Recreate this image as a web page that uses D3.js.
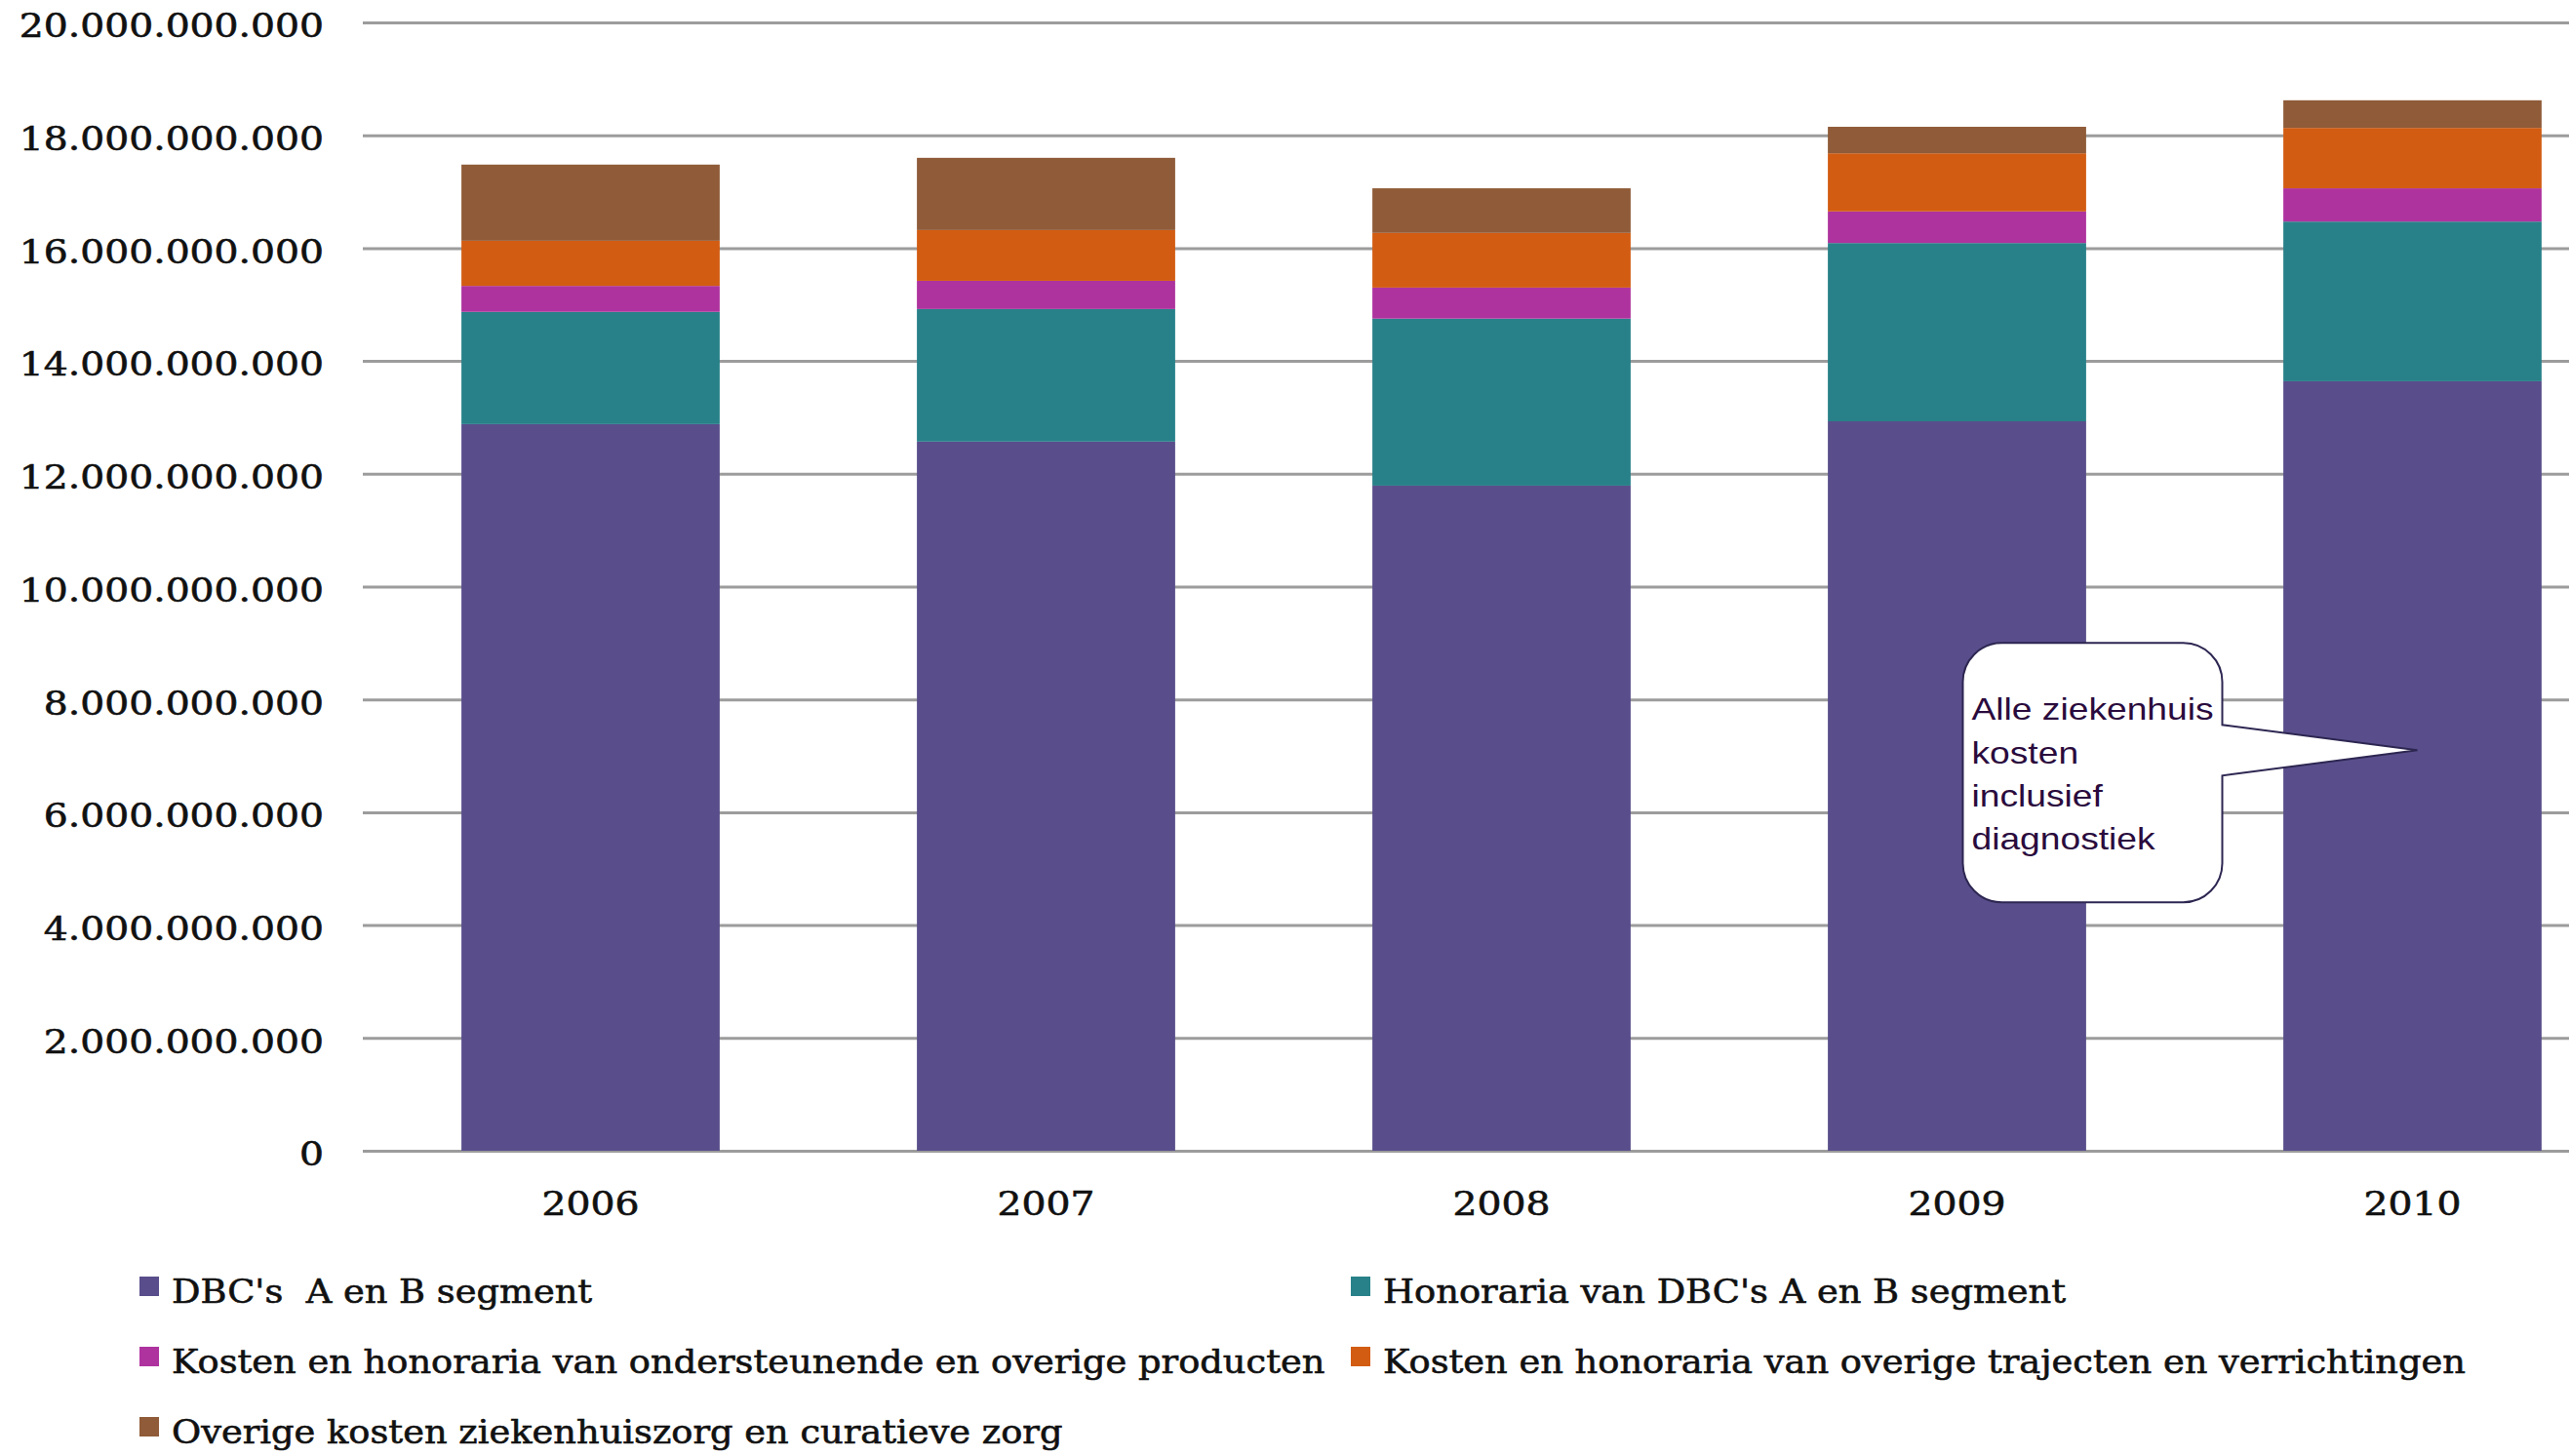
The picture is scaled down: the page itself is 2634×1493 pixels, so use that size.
<!DOCTYPE html>
<html>
<head>
<meta charset="utf-8">
<script src="https://cdn.jsdelivr.net/npm/d3@7"></script>
<style>
  html, body { margin: 0; padding: 0; background: #fff; }
  svg { display: block; }
</style>
</head>
<body>
<div id="chart"></div>
<script>
// data (in euro)
const years = ["2006", "2007", "2008", "2009", "2010"];
const seriesNames = [
  "DBC's  A en B segment",
  "Honoraria van DBC's A en B segment",
  "Kosten en honoraria van ondersteunende en overige producten",
  "Kosten en honoraria van overige trajecten en verrichtingen",
  "Overige kosten ziekenhuiszorg en curatieve zorg"
];
const dbc           = [12.88e9, 12.57e9, 11.79e9, 12.93e9, 13.64e9];
const honoraria     = [1.99e9, 2.35e9, 2.96e9, 3.16e9, 2.83e9];
const ondersteunend = [0.46e9, 0.50e9, 0.55e9, 0.56e9, 0.59e9];
const trajecten     = [0.80e9, 0.90e9, 0.97e9, 1.03e9, 1.07e9];
const overig        = [1.35e9, 1.28e9, 0.79e9, 0.47e9, 0.49e9];
const yTicks = d3.range(0, 20e9 + 1, 2e9);
const colors = ["#594e8b", "#288189", "#ae339e", "#d25c12", "#8f5b38"];
const calloutLines = ["Alle ziekenhuis", "kosten", "inclusief", "diagnostiek"];

const W = 2634, H = 1493;
const serif = "'DejaVu Serif', serif";

const series = [dbc, honoraria, ondersteunend, trajecten, overig];
const rows = years.map((yr, i) => {
  const r = { year: yr };
  series.forEach((s, k) => r["s" + k] = s[i]);
  return r;
});
const keys = series.map((s, k) => "s" + k);
const stacked = d3.stack().keys(keys)(rows);

const x = d3.scaleBand().domain(years).range([372, 2707])
  .paddingInner(0.433).paddingOuter(0.2165);
const y = d3.scaleLinear().domain([0, 20e9]).range([1180, 23]);

const nl = d3.formatLocale({ decimal: ",", thousands: ".", grouping: [3], currency: ["€", ""] });
const fmt = nl.format(",d");

const svg = d3.select("#chart").append("svg")
  .attr("width", W).attr("height", H);

// the original picture is drawn a bit wide: stretch text, keep anchor point
function widen(sel, k) {
  sel.each(function() {
    const t = d3.select(this);
    const x0 = +t.attr("x") || 0;
    t.attr("x", x0 / k).attr("transform", `scale(${k},1)`);
  });
}

// y axis + gridlines
const yAxis = svg.append("g")
  .attr("transform", `translate(${x.range()[0]},0)`)
  .call(d3.axisLeft(y).tickValues(yTicks).tickFormat(fmt)
    .tickSizeInner(-(W - x.range()[0])).tickSizeOuter(0).tickPadding(40));
yAxis.select(".domain").remove();
yAxis.selectAll(".tick line").attr("stroke", "#9c9c9c").attr("stroke-width", 3);
yAxis.selectAll(".tick text")
  .attr("font-family", serif).attr("font-size", 33).attr("fill", "#111")
  .attr("stroke", "#111").attr("stroke-width", 0.6)
  .attr("dy", "0.45em");
widen(yAxis.selectAll(".tick text"), 1.19);

// bars
svg.append("g").selectAll("g")
  .data(stacked).join("g")
  .attr("fill", (d, i) => colors[i])
  .selectAll("rect")
  .data(d => d).join("rect")
  .attr("x", d => x(d.data.year))
  .attr("width", x.bandwidth())
  .attr("y", d => y(d[1]))
  .attr("height", d => y(d[0]) - y(d[1]));

// x labels
const xl = svg.append("g").selectAll("text")
  .data(years).join("text")
  .attr("x", d => x(d) + x.bandwidth() / 2)
  .attr("y", 1246)
  .attr("text-anchor", "middle")
  .attr("font-family", serif).attr("font-size", 33).attr("fill", "#111")
  .attr("stroke", "#111").attr("stroke-width", 0.6)
  .text(d => d);
widen(xl, 1.19);

// callout pointing into the 2010 bar
const tipX = x("2010") + x.bandwidth() / 2 + 5;
const tipY = y(7.1e9);
const bx0 = tipX - 466, bx1 = tipX - 200, by0 = tipY - 110, by1 = tipY + 156, cr = 40;
const p = d3.path();
p.moveTo(bx0 + cr, by0);
p.lineTo(bx1 - cr, by0);
p.arcTo(bx1, by0, bx1, by0 + cr, cr);
p.lineTo(bx1, tipY - 26);
p.lineTo(tipX, tipY);
p.lineTo(bx1, tipY + 26);
p.lineTo(bx1, by1 - cr);
p.arcTo(bx1, by1, bx1 - cr, by1, cr);
p.lineTo(bx0 + cr, by1);
p.arcTo(bx0, by1, bx0, by1 - cr, cr);
p.lineTo(bx0, by0 + cr);
p.arcTo(bx0, by0, bx0 + cr, by0, cr);
p.closePath();
svg.append("path").attr("d", p.toString())
  .attr("fill", "#fff").attr("stroke", "#2d2752").attr("stroke-width", 2);
const ct = svg.append("g").selectAll("text")
  .data(calloutLines).join("text")
  .attr("x", bx0 + 9)
  .attr("y", (d, i) => by0 + 79 + i * 44.3)
  .attr("font-family", "'Liberation Sans', Arial, sans-serif")
  .attr("font-size", 31).attr("fill", "#2a0b3d")
  .text(d => d);
widen(ct, 1.2);

// legend
const legCols = [143, 1385], legRows = [1336, 1408, 1480];
const leg = svg.append("g").selectAll("g")
  .data(seriesNames).join("g")
  .attr("transform", (d, i) => `translate(${legCols[i % 2]},${legRows[Math.floor(i / 2)]})`);
leg.append("rect")
  .attr("x", 0).attr("y", -27).attr("width", 20).attr("height", 20)
  .attr("fill", (d, i) => colors[i]);
const lt = leg.append("text")
  .attr("x", 33).attr("y", 0)
  .attr("font-family", serif).attr("font-size", 33).attr("fill", "#111")
  .attr("stroke", "#111").attr("stroke-width", 0.6)
  .style("white-space", "pre")
  .text(d => d);
widen(lt, 1.115);
</script>
</body>
</html>
